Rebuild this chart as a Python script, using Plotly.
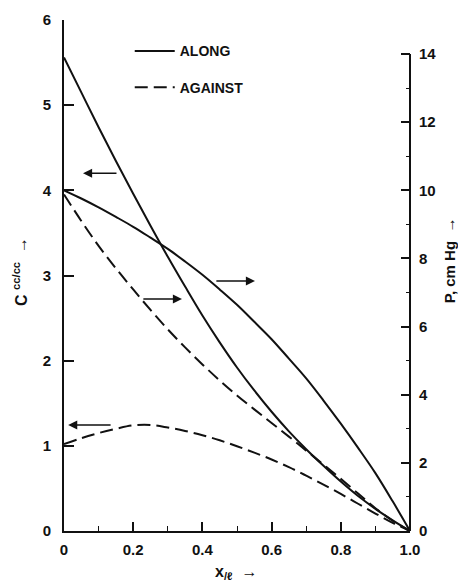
import plotly.graph_objects as go

# x / l positions
x_pos = [0.0, 0.05, 0.1, 0.15, 0.2, 0.25, 0.3, 0.35, 0.4, 0.45, 0.5,
         0.55, 0.6, 0.65, 0.7, 0.75, 0.8, 0.85, 0.9, 0.95, 1.0]

# Concentration C (cc/cc), flow ALONG (left axis)
c_along = [5.56, 5.15, 4.74, 4.345, 3.96, 3.585, 3.22, 2.87, 2.53, 2.215, 1.92,
           1.65, 1.40, 1.17, 0.96, 0.765, 0.58, 0.41, 0.26, 0.125, 0.0]
# Concentration C (cc/cc), flow AGAINST (left axis)
c_against = [1.02, 1.09, 1.15, 1.20, 1.24, 1.245, 1.215, 1.175, 1.125, 1.065, 0.995,
             0.92, 0.84, 0.75, 0.65, 0.545, 0.435, 0.32, 0.205, 0.095, 0.0]
# Pressure P (cm Hg), flow ALONG (right axis)
p_along = [10.0, 9.76, 9.50, 9.22, 8.93, 8.61, 8.28, 7.91, 7.52, 7.09, 6.64,
           6.14, 5.63, 5.06, 4.48, 3.83, 3.15, 2.44, 1.70, 0.87, 0.0]
# Pressure P (cm Hg), flow AGAINST (right axis)
p_against = [9.88, 9.10, 8.37, 7.71, 7.09, 6.49, 5.92, 5.39, 4.89, 4.42, 3.98,
             3.57, 3.17, 2.77, 2.36, 1.95, 1.53, 1.10, 0.67, 0.30, 0.0]

x_tickvals = [0, 0.2, 0.4, 0.6, 0.8, 1.0]
x_ticktext = ["0", "0.2", "0.4", "0.6", "0.8", "1.0"]
c_tickvals = [0, 1, 2, 3, 4, 5, 6]
p_tickvals = [0, 2, 4, 6, 8, 10, 12, 14]

# Indicator arrows: (tail x, head x, level, axis)
arrows = [
    (0.156, 0.055, 4.20, "y"),    # C along -> left axis
    (0.139, 0.012, 1.245, "y"),   # C against -> left axis
    (0.436, 0.552, 7.34, "y2"),   # P along -> right axis
    (0.225, 0.341, 6.81, "y2"),   # P against -> right axis
]

BLACK = "#111111"
solid = dict(color=BLACK, width=2)
dashed = dict(color=BLACK, width=2, dash="13px,6px")

fig = go.Figure()
fig.add_trace(go.Scatter(x=x_pos, y=c_along, mode="lines", line=solid,
                         line_shape="spline", name="ALONG", legendgroup="a",
                         showlegend=True))
fig.add_trace(go.Scatter(x=x_pos, y=p_along, mode="lines", line=solid,
                         line_shape="spline", name="ALONG", legendgroup="a",
                         showlegend=False, yaxis="y2"))
fig.add_trace(go.Scatter(x=x_pos, y=p_against, mode="lines", line=dashed,
                         line_shape="spline", name="AGAINST", legendgroup="b",
                         showlegend=True, yaxis="y2"))
fig.add_trace(go.Scatter(x=x_pos, y=c_against, mode="lines", line=dashed,
                         line_shape="spline", name="AGAINST", legendgroup="b",
                         showlegend=False))

tickfont = dict(family="Liberation Sans", size=15, color=BLACK, weight="bold")
titlefont = dict(family="Liberation Sans", size=16, color=BLACK, weight="bold")

annotations = []
for tail, head, level, ax in arrows:
    annotations.append(dict(
        x=head, y=level, xref="x", yref=ax,
        ax=tail, ay=level, axref="x", ayref=ax,
        text="", showarrow=True, arrowhead=2, arrowsize=1.3,
        arrowwidth=1.4, arrowcolor=BLACK))

annotations += [
    dict(text="C <sup>cc/cc</sup>  →", xref="paper", yref="paper",
         x=0, y=0.507, xshift=-44, textangle=-90, showarrow=False,
         font=titlefont, xanchor="center", yanchor="middle"),
    dict(text="P, cm Hg  →", xref="paper", yref="paper",
         x=1, y=0.53, xshift=39, textangle=-90, showarrow=False,
         font=dict(family="Liberation Sans", size=15, color=BLACK,
                   weight="bold"),
         xanchor="center", yanchor="middle"),
    dict(text="x<sub>/ℓ</sub>  →", xref="paper", yref="paper",
         x=0.497, y=-0.082, showarrow=False, font=titlefont,
         xanchor="center", yanchor="middle"),
]

fig.update_layout(
    width=458, height=583,
    margin=dict(l=64, r=48, t=20, b=52),
    paper_bgcolor="white", plot_bgcolor="white",
    showlegend=True,
    legend=dict(x=0.19, y=0.97, xanchor="left", yanchor="top",
                font=dict(family="Liberation Sans", size=14, color=BLACK,
                          weight="bold"),
                tracegroupgap=15, bgcolor="rgba(0,0,0,0)",
                itemwidth=40),
    xaxis=dict(range=[0, 1], showline=True, linecolor=BLACK, linewidth=2,
               ticks="inside", ticklen=9, tickwidth=1.5, tickcolor=BLACK,
               tickvals=x_tickvals, ticktext=x_ticktext, tickfont=tickfont,
               showgrid=False, zeroline=False, ticklabelstandoff=4,
               minor=dict(dtick=0.1, ticks="inside", ticklen=5,
                          tickwidth=1.2, tickcolor=BLACK, showgrid=False)),
    yaxis=dict(range=[0, 6], showline=True, linecolor=BLACK, linewidth=2,
               ticks="inside", ticklen=10, tickwidth=1.5, tickcolor=BLACK,
               tickvals=c_tickvals, tickfont=tickfont, showgrid=False,
               zeroline=False, ticklabelstandoff=8),
    yaxis2=dict(range=[0, 15], overlaying="y", side="right", showline=False,
                ticks="inside", ticklen=9, tickwidth=1.5, tickcolor=BLACK,
                tickvals=p_tickvals, tickfont=tickfont, showgrid=False,
                zeroline=False, ticklabelstandoff=8,
                minor=dict(dtick=1, ticks="inside", ticklen=4,
                           tickwidth=1.2, tickcolor=BLACK, showgrid=False)),
    annotations=annotations,
    shapes=[dict(type="line", xref="paper", yref="y2", x0=1, x1=1,
                 y0=0, y1=14, line=dict(color=BLACK, width=2))],
)

fig.write_html("out.html")
